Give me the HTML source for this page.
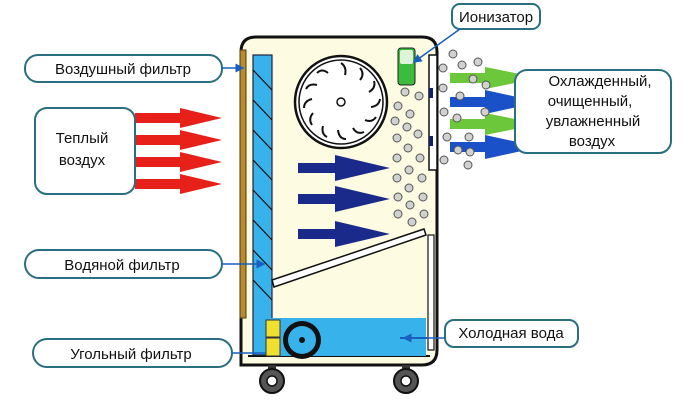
<!DOCTYPE html>
<html><head><meta charset="utf-8"><style>
html,body{margin:0;padding:0;background:#fff;}
svg{display:block;}
text{font-family:"Liberation Sans","DejaVu Sans",sans-serif;fill:#111;}
</style></head><body>
<svg width="700" height="403" viewBox="0 0 700 403" xmlns="http://www.w3.org/2000/svg">
<defs>
<marker id="ah" markerWidth="6" markerHeight="6" refX="5" refY="3" orient="auto"><path d="M0,0 L6,3 L0,6 z" fill="#1a5fc0"/></marker>
</defs>
<path d="M241,365 L241,52 Q241,37 256,37 L422,37 Q437,37 437,52 L437,350 Q437,365 422,365 Z" fill="#fdfbe1" stroke="#111" stroke-width="3"/>
<path d="M248,356 L430,356" stroke="#111" stroke-width="2"/>
<rect x="429" y="55" width="8" height="115" fill="#fff" stroke="#111" stroke-width="1.5"/>
<rect x="429" y="88" width="4" height="10" fill="#12206a"/>
<rect x="429" y="136" width="4" height="10" fill="#12206a"/>
<rect x="428" y="235" width="6" height="115" fill="#fff" stroke="#111" stroke-width="1.2"/>
<rect x="240" y="50" width="6" height="268" fill="#b98a2e" stroke="#4a3a10" stroke-width="1"/>
<rect x="253" y="55" width="19" height="300" fill="#38b2ea" stroke="#224" stroke-width="1.2"/>
<g stroke="#111" stroke-width="1.2">
<line x1="253" y1="70" x2="272" y2="90"/><line x1="253" y1="100" x2="272" y2="120"/>
<line x1="253" y1="130" x2="272" y2="150"/><line x1="253" y1="160" x2="272" y2="180"/>
<line x1="253" y1="190" x2="272" y2="210"/><line x1="253" y1="220" x2="272" y2="240"/>
<line x1="253" y1="250" x2="272" y2="270"/><line x1="253" y1="280" x2="272" y2="300"/>
</g>
<circle cx="341" cy="102" r="46" fill="#fff" stroke="#111" stroke-width="2.5"/>
<circle cx="341" cy="102" r="42" fill="none" stroke="#111" stroke-width="1.5"/>
<circle cx="341" cy="102" r="4" fill="#fff" stroke="#111" stroke-width="1.5"/>
<g stroke="#111" stroke-width="2" fill="none">
<path d="M341,63 q6,4 4,12"/><path d="M360,68 q5,6 0,12"/><path d="M374,81 q2,7 -5,11"/><path d="M380,99 q-1,7 -9,8"/>
<path d="M376,117 q-4,6 -11,3"/><path d="M364,132 q-7,3 -11,-4"/><path d="M346,139 q-7,0 -8,-9"/><path d="M327,137 q-6,-3 -4,-11"/>
<path d="M312,125 q-4,-6 1,-12"/><path d="M304,108 q0,-7 8,-9"/><path d="M306,89 q3,-6 11,-4"/><path d="M317,73 q5,-5 11,0"/>
</g>
<rect x="398" y="48" width="17" height="37" rx="3" fill="#3cbc3c" stroke="#222" stroke-width="1"/>
<rect x="400" y="50" width="13" height="14" rx="2" fill="#dff3d8"/>
<g fill="#1a2a8a">
<path d="M298,163 h37 v-8 l55,13 l-55,13 v-8 h-37 z"/>
<path d="M298,194 h37 v-8 l55,13 l-55,13 v-8 h-37 z"/>
<path d="M298,229 h37 v-8 l55,13 l-55,13 v-8 h-37 z"/>
</g>
<path d="M272,280 L424,229 L426,235 L274,287 Z" fill="#fff" stroke="#111" stroke-width="1.5"/>
<rect x="270" y="318" width="156" height="38" fill="#38b2ea"/>
<line x1="400" y1="338" x2="428" y2="338" stroke="#1a5fc0" stroke-width="2"/>
<rect x="266" y="320" width="14" height="17" fill="#f0e030" stroke="#333"/>
<rect x="266" y="338" width="14" height="18" fill="#f0e030" stroke="#333"/>
<circle cx="302" cy="340" r="19" fill="#111"/>
<circle cx="302" cy="340" r="14" fill="#38b2ea"/>
<circle cx="302" cy="340" r="3" fill="#111"/>
<rect x="268" y="365" width="8" height="6" fill="#333"/><rect x="402" y="365" width="8" height="6" fill="#333"/>
<circle cx="272" cy="381" r="12" fill="#555" stroke="#111" stroke-width="2"/><circle cx="272" cy="381" r="5" fill="#fff" stroke="#111" stroke-width="1.5"/>
<circle cx="406" cy="381" r="12" fill="#555" stroke="#111" stroke-width="2"/><circle cx="406" cy="381" r="5" fill="#fff" stroke="#111" stroke-width="1.5"/>
<g fill="#e8201a">
<path d="M135,113 h45 v-5 l42,10 l-42,10 v-5 h-45 z"/>
<path d="M135,135 h45 v-5 l42,10 l-42,10 v-5 h-45 z"/>
<path d="M135,157 h45 v-5 l42,10 l-42,10 v-5 h-45 z"/>
<path d="M135,179 h45 v-5 l42,10 l-42,10 v-5 h-45 z"/>
</g>
<path d="M450,73 h35 v-6 l55,11 l-55,11 v-6 h-35 z" fill="#6cc83a"/>
<path d="M450,97 h35 v-7 l55,12 l-55,12 v-7 h-35 z" fill="#1a50c8"/>
<path d="M450,119 h35 v-6 l55,11 l-55,11 v-6 h-35 z" fill="#6cc83a"/>
<path d="M450,142 h35 v-7 l55,12 l-55,12 v-7 h-35 z" fill="#1a50c8"/>
<g fill="#cfd2cf" stroke="#555" stroke-width="1">
<circle cx="405" cy="92" r="4"/><circle cx="419" cy="96" r="4"/><circle cx="398" cy="106" r="4"/><circle cx="410" cy="114" r="4"/>
<circle cx="395" cy="121" r="4"/><circle cx="407" cy="127" r="4"/><circle cx="397" cy="138" r="4"/><circle cx="418" cy="134" r="4"/>
<circle cx="408" cy="148" r="4"/><circle cx="397" cy="158" r="4"/><circle cx="420" cy="158" r="4"/><circle cx="409" cy="170" r="4"/>
<circle cx="397" cy="178" r="4"/><circle cx="422" cy="178" r="4"/><circle cx="409" cy="188" r="4"/><circle cx="398" cy="197" r="4"/>
<circle cx="423" cy="197" r="4"/><circle cx="410" cy="205" r="4"/><circle cx="398" cy="214" r="4"/><circle cx="424" cy="214" r="4"/><circle cx="412" cy="222" r="4"/>
<circle cx="453" cy="54" r="4"/><circle cx="462" cy="65" r="4"/><circle cx="478" cy="62" r="4"/><circle cx="443" cy="68" r="4"/>
<circle cx="473" cy="79" r="4"/><circle cx="486" cy="85" r="4"/><circle cx="443" cy="88" r="4"/><circle cx="460" cy="96" r="4"/>
<circle cx="444" cy="112" r="4"/><circle cx="457" cy="118" r="4"/><circle cx="485" cy="112" r="4"/><circle cx="447" cy="137" r="4"/>
<circle cx="469" cy="137" r="4"/><circle cx="458" cy="150" r="4"/><circle cx="444" cy="160" r="4"/><circle cx="470" cy="152" r="4"/><circle cx="468" cy="165" r="4"/>
</g>
<g fill="#fff" stroke="#2a6f80" stroke-width="2">
<rect x="452" y="4" width="88" height="25" rx="8"/>
<rect x="25" y="55" width="197" height="27" rx="13"/>
<rect x="35" y="108" width="100" height="86" rx="12"/>
<rect x="515" y="70" width="156" height="83" rx="12"/>
<rect x="25" y="250" width="197" height="28" rx="14"/>
<rect x="33" y="339" width="199" height="28" rx="14"/>
<rect x="445" y="320" width="133" height="27" rx="9"/>
</g>
<g stroke="#1a5fc0" stroke-width="1.5" fill="none">
<line x1="460" y1="29" x2="414" y2="62" marker-end="url(#ah)"/>
<line x1="222" y1="68" x2="243" y2="68" marker-end="url(#ah)"/>
<line x1="222" y1="264" x2="264" y2="264" marker-end="url(#ah)"/>
<line x1="232" y1="353" x2="266" y2="353"/>
<line x1="445" y1="338" x2="404" y2="338" marker-end="url(#ah)"/>
</g>
<text x="496" y="22" font-size="15" text-anchor="middle">Ионизатор</text>
<text x="123" y="74" font-size="15" text-anchor="middle">Воздушный фильтр</text>
<text x="82" y="143" font-size="15" text-anchor="middle">Теплый</text>
<text x="82" y="165" font-size="15" text-anchor="middle">воздух</text>
<text x="600" y="86" font-size="15" text-anchor="middle">Охлажденный,</text>
<text x="590" y="106" font-size="15" text-anchor="middle">очищенный,</text>
<text x="593" y="126" font-size="15" text-anchor="middle">увлажненный</text>
<text x="592" y="146" font-size="15" text-anchor="middle">воздух</text>
<text x="122" y="270" font-size="15" text-anchor="middle">Водяной фильтр</text>
<text x="131" y="359" font-size="15" text-anchor="middle">Угольный фильтр</text>
<text x="511" y="338" font-size="15" text-anchor="middle">Холодная вода</text>
</svg>
</body></html>
